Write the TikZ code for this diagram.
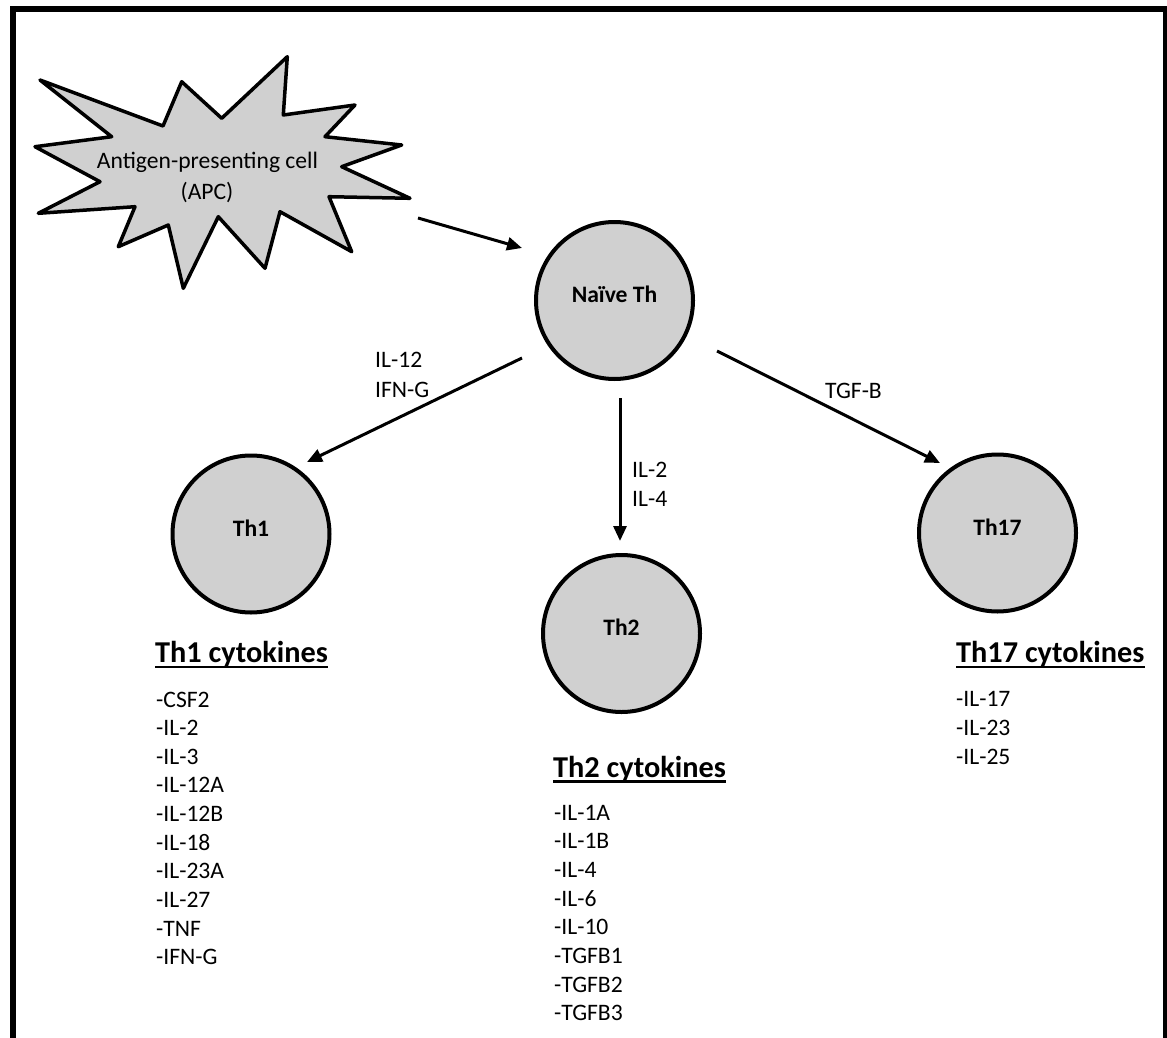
\documentclass[tikz,border=0pt]{standalone}
\usepackage{fontspec}
\setmainfont{Carlito}
\usetikzlibrary{arrows.meta,calc}
\definecolor{cellgray}{RGB}{208,208,208}
\newcommand\fsnorm{\fontsize{23.6pt}{28pt}\selectfont}
\newcommand\fsbold{\fontsize{23.6pt}{28pt}\selectfont\bfseries}
\newcommand\fshead{\fontsize{30.3pt}{36pt}\selectfont\bfseries}
\tikzset{
  cell/.style={circle, draw=black, line width=4pt, fill=cellgray, minimum size=157pt, inner sep=0pt},
  cellname/.style={anchor=base, inner sep=0pt, font=\fsbold},
  arr/.style={line width=3pt, -{Triangle[length=15pt,width=13pt]}},
  lbl/.style={anchor=base west, inner sep=0pt, font=\fsnorm},
  head/.style={anchor=base west, inner sep=0pt, font=\fshead},
  uline/.style={line width=2.2pt},
  apctext/.style={anchor=base, inner sep=0pt, font=\fsnorm}
}
\begin{document}
\begin{tikzpicture}[x=1pt,y=-1pt]
\useasboundingbox (0,0) rectangle (1167,1038);
% frame
\fill[black] (10,6) rectangle (16,1038);
\fill[black] (10,6) rectangle (1167,12);
\fill[black] (1163,6) rectangle (1167,1038);
% APC starburst
\draw[line width=3.5pt, line join=round, fill=cellgray]
 (40,80) -- (163,126) -- (181.7,81.7) -- (221.7,118.3) -- (287.3,56.7) -- (283.3,115)
 -- (355,105) -- (325,136.7) -- (401.7,145) -- (341.7,166.7) -- (410,198.3) -- (329,196.7)
 -- (351.7,251.7) -- (280,211.7) -- (265,268.3) -- (218.3,216.7) -- (183.3,288.3)
 -- (168.3,225) -- (118.3,246.7) -- (135,206.7) -- (38.3,213.3) -- (100,181.7)
 -- (35,146.7) -- (111.7,136.7) -- cycle;
\node[apctext] (apc) at (207.5,168) {Antigen-presenting cell};
\node[apctext] (apcb) at (207,199) {(APC)};
% cells
\node[cell] (naive) at (614.5,300.5) {};
\node[cellname] (naivel) at (614.5,302.5) {Naïve Th};
\node[cell] (th1) at (251,534) {};
\node[cellname] (th1l) at (251,536) {Th1};
\node[cell] (th2) at (621.5,633.5) {};
\node[cellname] (th2l) at (621.5,635.5) {Th2};
\node[cell] (th17) at (997.5,533) {};
\node[cellname] (th17l) at (997.5,535) {Th17};
% connector ends
\coordinate (apcout) at (418,218);
\coordinate (naivein) at (522,248);
\coordinate (naiveA) at (522,358);
\coordinate (th1in) at (307,462);
\coordinate (naiveB) at (620,398);
\coordinate (th2in) at (620,541);
\coordinate (naiveC) at (717,351);
\coordinate (th17in) at (940,463);
\draw[arr] (apcout) -- (naivein);
\draw[arr] (naiveA) -- (th1in);
\draw[arr] (naiveB) -- (th2in);
\draw[arr] (naiveC) -- (th17in);
% arrow labels
\node[lbl] (l12) at (375,367) {IL-12};
\node[lbl] (lifn) at (375,397) {IFN-G};
\node[lbl] (l2) at (632,477) {IL-2};
\node[lbl] (l4) at (632,506) {IL-4};
\node[lbl] (ltgf) at (825,398) {TGF-B};
% headings
\node[head] (h1) at (155,662) {Th1 cytokines};
\draw[uline] ($(h1.base west)+(0,5)$) -- ($(h1.base east)+(0,5)$);
\node[head] (h2) at (553,777) {Th2 cytokines};
\draw[uline] ($(h2.base west)+(0,4.5)$) -- ($(h2.base east)+(0,4.5)$);
\node[head] (h17) at (956,662) {Th17 cytokines};
\draw[uline] ($(h17.base west)+(0,5)$) -- ($(h17.base east)+(0,5)$);
% lists
\foreach \t [count=\i from 0] in {-CSF2,-IL-2,-IL-3,-IL-12A,-IL-12B,-IL-18,-IL-23A,-IL-27,-TNF,-IFN-G}
  \node[lbl] (ta\i) at (156,707+28.65*\i) {\t};
\foreach \t [count=\i from 0] in {-IL-1A,-IL-1B,-IL-4,-IL-6,-IL-10,-TGFB1,-TGFB2,-TGFB3}
  \node[lbl] (tb\i) at (554,820+28.7*\i) {\t};
\foreach \t [count=\i from 0] in {-IL-17,-IL-23,-IL-25}
  \node[lbl] (tc\i) at (956,706+29*\i) {\t};
\end{tikzpicture}
\end{document}
